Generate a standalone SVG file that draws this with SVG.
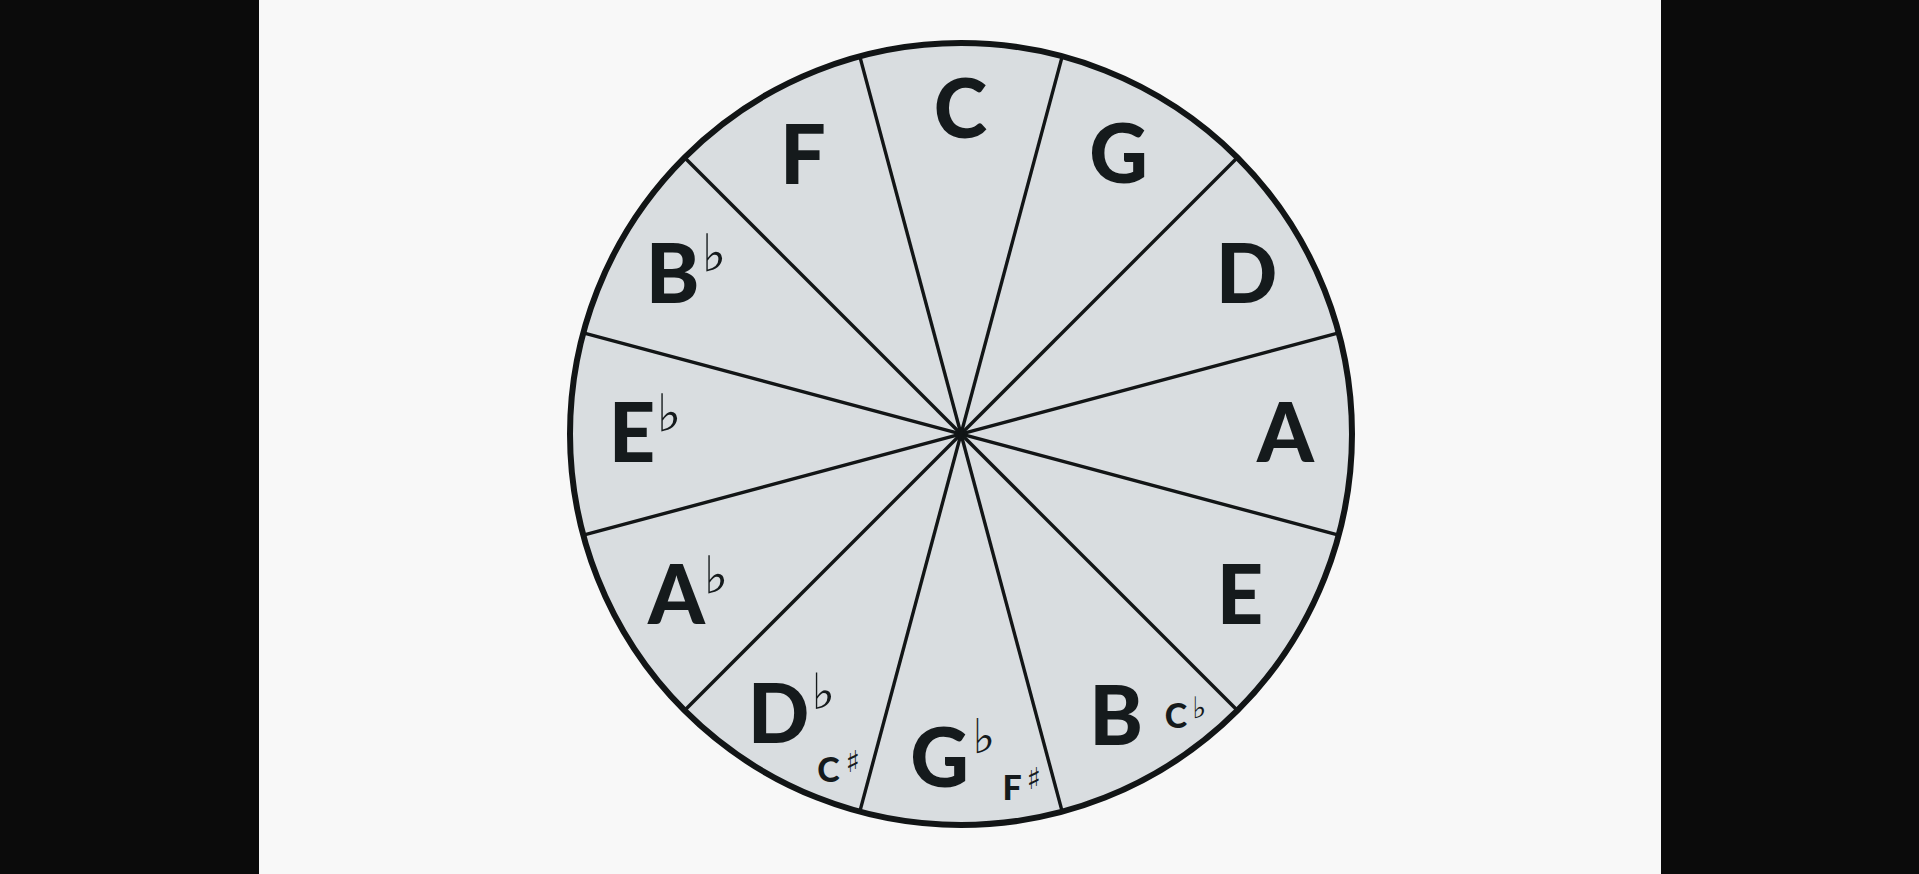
<svg xmlns="http://www.w3.org/2000/svg" width="1919" height="874" viewBox="0 0 1919 874">
<style>
.note{font-family:Lato,"Open Sans","DejaVu Sans",sans-serif;font-weight:900;font-size:81px;fill:#151a1c;text-anchor:middle}
.small{font-family:Lato,"Open Sans","DejaVu Sans",sans-serif;font-weight:900;font-size:34px;fill:#151a1c;text-anchor:middle}
.acc{font-family:"DejaVu Sans",sans-serif;font-weight:bold;fill:#151a1c;text-anchor:middle}
.div{stroke:#121516;stroke-width:3.4;fill:none}
</style>
<rect x="0" y="0" width="1919" height="874" fill="#0b0b0b"/>
<rect x="259" y="0" width="1402" height="874" fill="#f8f8f8"/>
<g id="wheel">
<circle cx="961" cy="434" r="391" fill="#d9dde0" stroke="#121516" stroke-width="6"/>
</g>
<g id="connectors">
<line class="div" x1="1338.67" y1="535.2" x2="583.33" y2="332.8"/>
<line class="div" x1="1338.67" y1="332.8" x2="583.33" y2="535.2"/>
<line class="div" x1="1237.48" y1="710.48" x2="684.52" y2="157.52"/>
<line class="div" x1="1237.48" y1="157.52" x2="684.52" y2="710.48"/>
<line class="div" x1="1062.2" y1="811.67" x2="859.8" y2="56.33"/>
<line class="div" x1="1062.2" y1="56.33" x2="859.8" y2="811.67"/>
</g>
<g id="C"><text class="note" x="960.5" y="138">C</text></g>
<g id="G"><text class="note" x="1118.5" y="183">G</text></g>
<g id="D"><text class="note" x="1246.5" y="303">D</text></g>
<g id="A"><text class="note" x="1285.5" y="462">A</text></g>
<g id="E"><text class="note" x="1240" y="624">E</text></g>
<g id="B"><text class="note" x="1116" y="745">B</text><text class="small" x="1176" y="728">C</text><text class="acc" x="1199" y="718" font-size="30">♭</text></g>
<g id="Gb"><text class="note" x="939.5" y="787">G</text><text class="acc" x="984" y="753" font-size="48">♭</text><text class="small" x="1012" y="800" font-size="30">F</text><text class="acc" x="1034" y="789" font-size="30">♯</text></g>
<g id="Db"><text class="note" x="778.5" y="743">D</text><text class="acc" x="823" y="709" font-size="50">♭</text><text class="small" x="828.5" y="782">C</text><text class="acc" x="853" y="772" font-size="30">♯</text></g>
<g id="Ab"><text class="note" x="676.5" y="624">A</text><text class="acc" x="716" y="593" font-size="52">♭</text></g>
<g id="Eb"><text class="note" x="632" y="462">E</text><text class="acc" x="669" y="431" font-size="52">♭</text></g>
<g id="Bb"><text class="note" x="672.5" y="303">B</text><text class="acc" x="714" y="271" font-size="52">♭</text></g>
<g id="F"><text class="note" x="803" y="184">F</text></g>
</svg>
